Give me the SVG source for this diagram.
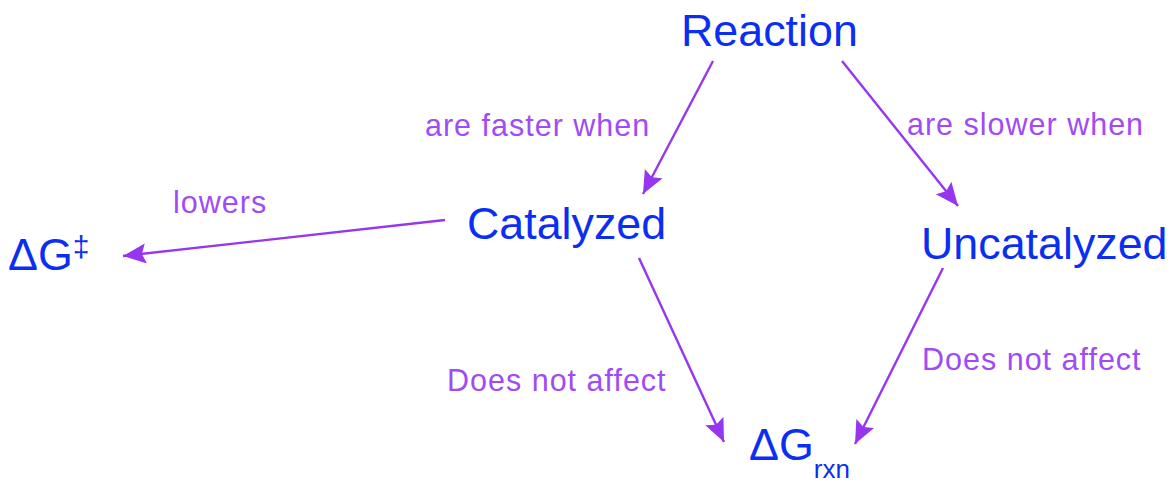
<svg xmlns="http://www.w3.org/2000/svg" width="1175" height="483" viewBox="0 0 1175 483">
<style>
.node{font-family:"Liberation Sans",Arial,sans-serif;font-size:44.8px;fill:#0b2ff2}
.lbl{font-family:"Liberation Sans",Arial,sans-serif;font-size:30.5px;letter-spacing:1px;fill:#a04bf5}
.edge{stroke:#9636ee;stroke-width:2.4;fill:none;marker-end:url(#ah)}
</style>
<defs>
<marker id="ah" markerUnits="userSpaceOnUse" markerWidth="26" markerHeight="22" refX="23" refY="10" orient="auto">
<path d="M0,0 L23,10 L0,20 L4,10 Z" fill="#9636ee"/>
</marker>
</defs>
<rect width="1175" height="483" fill="#ffffff"/>
<g id="connectors">
<line class="edge" x1="713" y1="61" x2="643" y2="194"/>
<line class="edge" x1="842" y1="61" x2="958" y2="206"/>
<line class="edge" x1="445" y1="220" x2="123" y2="256"/>
<line class="edge" x1="639" y1="258" x2="724" y2="442"/>
<line class="edge" x1="943" y1="268" x2="855" y2="444"/>
<text class="lbl" x="425" y="136">are faster when</text>
<text class="lbl" x="907" y="135">are slower when</text>
<text class="lbl" x="173" y="213">lowers</text>
<text class="lbl" x="447" y="391">Does not affect</text>
<text class="lbl" x="922" y="370">Does not affect</text>
</g>
<g id="node-reaction"><text class="node" x="681" y="46">Reaction</text></g>
<g id="node-catalyzed"><text class="node" x="467" y="239">Catalyzed</text></g>
<g id="node-uncatalyzed"><text class="node" x="921" y="259">Uncatalyzed</text></g>
<g id="node-dg-ts"><text class="node" x="8" y="270">ΔG<tspan font-size="30" dy="-13">‡</tspan></text></g>
<g id="node-dg-rxn"><text class="node" x="749" y="460">ΔG<tspan font-size="26" dy="18">rxn</tspan></text></g>
</svg>
